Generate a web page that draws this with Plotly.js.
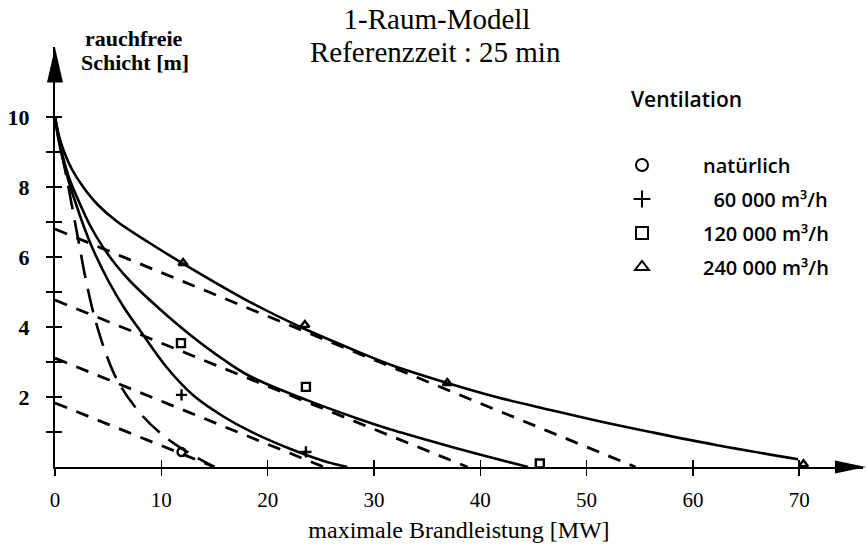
<!DOCTYPE html>
<html><head><meta charset="utf-8">
<script src="https://cdn.plot.ly/plotly-3.0.1.min.js"></script>
<style>html,body{margin:0;padding:0;background:#fff}#chart{width:866px;height:547px}</style>
</head><body><div id="chart"></div>
<script>
// ---- tick labels ----
const xTickVals = [0, 10, 20, 30, 40, 50, 60, 70];
const yTickVals = [1, 2, 3, 4, 5, 6, 7, 8, 9, 10];
const yTickText = ['', '2', '', '4', '', '6', '', '8', '', '10'];

// ---- solid curves (model) ----
const curve240X = [0, 0.3, 0.8, 1.6, 2.65, 4.0, 5.8, 8.9, 12.0, 18.3, 23.3, 27.5, 31.5, 36.9, 41.5, 46.6, 51.3, 56, 62.3, 69.9];
const curve240Y = [10, 9.55, 9.05, 8.5, 8.0, 7.5, 7.02, 6.4, 5.82, 4.72, 3.97, 3.42, 2.93, 2.4, 2.0, 1.63, 1.3, 1.0, 0.62, 0.22];

const curve120X = [0, 0.3, 0.8, 1.4, 2.3, 3.3, 4.5, 5.8, 7.1, 9.9, 12.7, 15.8, 18.3, 23.7, 28.5, 31.5, 34, 37, 40.3, 44.5];
const curve120Y = [10, 9.45, 8.8, 8.2, 7.55, 6.9, 6.29, 5.75, 5.3, 4.5, 3.78, 3.08, 2.6, 1.91, 1.38, 1.08, 0.86, 0.6, 0.33, 0];

const curve60X = [0, 0.3, 0.8, 1.4, 2.1, 2.8, 3.6, 5.05, 6.5, 8.0, 10.5, 13.0, 15.8, 18.3, 22.1, 25.2, 27.5];
const curve60Y = [10, 9.4, 8.7, 8.05, 7.4, 6.8, 6.2, 5.3, 4.55, 3.9, 2.85, 2.05, 1.45, 1.03, 0.52, 0.18, 0];

const curveNatX = [0, 0.4, 0.8, 1.2, 1.6, 2.0, 2.4, 2.8, 3.7, 4.9, 6.0, 8.0, 9.9, 12.1, 15.0];
const curveNatY = [10, 9.35, 8.72, 8.1, 7.45, 6.8, 6.15, 5.5, 4.3, 3.15, 2.4, 1.54, 0.97, 0.49, 0];

// ---- dashed lines ----
const line240X = [0, 54.6];
const line240Y = [6.8, 0];
const line120X = [0, 38.8];
const line120Y = [4.77, 0];
const line60X = [0, 25.3];
const line60Y = [3.11, 0];
const lineNatX = [0, 15.0];
const lineNatY = [1.83, 0];

// ---- measured points ----
const natX = [11.9];
const natY = [0.43];
const v60X = [11.9, 23.6];
const v60Y = [2.06, 0.43];
const v120X = [11.85, 23.6, 45.6];
const v120Y = [3.54, 2.29, 0.1];
const v240X = [12.05, 23.5, 36.9, 70.4];
const v240Y = [5.83, 4.06, 2.4, 0.08];

const seriesNames = ['natürlich', '\u00a0\u00a060 000 m³/h', '120 000 m³/h', '240 000 m³/h'];

const solid = {color: '#000', width: 2.6, shape: 'spline', smoothing: 1};
const shortDash = {color: '#000', width: 2.8, dash: '13px,10px'};
const longDash = {color: '#000', width: 2.6, dash: '24px,11px', shape: 'spline', smoothing: 1};

function curve(x, y, line) {
  return {x: x, y: y, mode: 'lines', line: line, showlegend: false, hoverinfo: 'skip'};
}
function pts(x, y, name, symbol, group) {
  return {x: x, y: y, mode: 'markers', name: name, legendgroup: group,
    marker: {symbol: symbol, size: 8, color: '#000', line: {color: '#000', width: 2.4}}};
}

const traces = [
  curve(curve240X, curve240Y, solid),
  curve(curve120X, curve120Y, solid),
  curve(curve60X, curve60Y, solid),
  curve(curveNatX, curveNatY, longDash),
  curve(line240X, line240Y, shortDash),
  curve(line120X, line120Y, shortDash),
  curve(line60X, line60Y, shortDash),
  curve(lineNatX, lineNatY, shortDash),
  pts(natX, natY, seriesNames[0], 'circle-open', 'g1'),
  pts(v60X, v60Y, seriesNames[1], 'cross-thin-open', 'g2'),
  pts(v120X, v120Y, seriesNames[2], 'square-open', 'g3'),
  pts(v240X, v240Y, seriesNames[3], 'triangle-up-open', 'g4'),
  {x: [], y: [], xaxis: 'x2', yaxis: 'y2', mode: 'markers', showlegend: false, hoverinfo: 'skip'}
];

const serif = 'Liberation Serif, Times New Roman, serif';
const sans = 'Open Sans, Noto Sans, sans-serif';

const layout = {
  width: 866, height: 547,
  margin: {l: 55, r: 3, t: 47, b: 80, pad: 0},
  paper_bgcolor: '#fff', plot_bgcolor: '#fff',
  title: {text: '1-Raum-Modell', x: 437 / 866, xanchor: 'center', y: 1 - 18.5 / 547, yanchor: 'middle',
    font: {family: serif, size: 29, color: '#000'}},
  xaxis: {range: [0, 76], showline: true, linecolor: '#000', linewidth: 2,
    ticks: 'outside', ticklen: 7, tickwidth: 1.5, tickcolor: '#000', tickvals: xTickVals,
    tickfont: {family: serif, size: 21, color: '#000'}, ticklabelstandoff: 6,
    showgrid: false, zeroline: false, fixedrange: true,
    title: {text: 'maximale Brandleistung [MW]', font: {family: serif, size: 24, color: '#000'}, standoff: 10}},
  yaxis: {range: [0, 12], showline: true, linecolor: '#000', linewidth: 2,
    ticks: 'outside', ticklen: 7, tickwidth: 1.5, tickcolor: '#000', tickvals: yTickVals, ticktext: yTickText,
    tickfont: {family: serif, size: 22, color: '#000', weight: 'bold'}, ticklabelstandoff: 12,
    showgrid: false, zeroline: false, fixedrange: true},
  xaxis2: {overlaying: 'x', anchor: 'y', side: 'bottom', range: [0, 76], ticks: 'inside', ticklen: 7, tickwidth: 1.5,
    tickcolor: '#000', tickvals: xTickVals, showticklabels: false, showline: false, showgrid: false, zeroline: false},
  yaxis2: {overlaying: 'y', anchor: 'x', side: 'left', range: [0, 12], ticks: 'inside', ticklen: 7, tickwidth: 1.5,
    tickcolor: '#000', tickvals: yTickVals, showticklabels: false, showline: false, showgrid: false, zeroline: false},
  showlegend: true,
  legend: {x: (581 - 55) / 808, y: (467.5 - 146) / 420, xanchor: 'left', yanchor: 'top',
    font: {family: sans, size: 20, color: '#000', weight: 600}, itemsizing: 'constant', itemwidth: 112,
    tracegroupgap: 5, bgcolor: 'rgba(0,0,0,0)', traceorder: 'grouped'},
  annotations: [
    {text: 'Referenzzeit : 25 min', xref: 'paper', yref: 'paper', x: (435 - 55) / 808, y: (467.5 - 52.5) / 420,
      xanchor: 'center', yanchor: 'middle', showarrow: false, font: {family: serif, size: 29, color: '#000'}},
    {text: 'rauchfreie', xref: 'paper', yref: 'paper', x: (134 - 55) / 808, y: (467.5 - 38.6) / 420,
      xanchor: 'center', yanchor: 'middle', showarrow: false, font: {family: serif, size: 22, color: '#000', weight: 'bold'}},
    {text: 'Schicht [m]', xref: 'paper', yref: 'paper', x: (135 - 55) / 808, y: (467.5 - 62.6) / 420,
      xanchor: 'center', yanchor: 'middle', showarrow: false, font: {family: serif, size: 22, color: '#000', weight: 'bold'}},
    {text: 'Ventilation', xref: 'paper', yref: 'paper', x: (686.5 - 55) / 808, y: (467.5 - 99) / 420,
      xanchor: 'center', yanchor: 'middle', showarrow: false, font: {family: sans, size: 21, color: '#000', weight: 600}}
  ],
  shapes: [
    {type: 'path', xref: 'paper', yref: 'paper', path: 'M 0.9653 0.0155 L 1.0037 0 L 0.9653 -0.0155 Z',
      fillcolor: '#000', line: {width: 0}, layer: 'above'},
    {type: 'path', xref: 'paper', yref: 'paper', path: 'M -0.0099 0.9155 L 0 0.9988 L 0.0099 0.9155 Z',
      fillcolor: '#000', line: {width: 0}, layer: 'above'}
  ]
};

Plotly.newPlot('chart', traces, layout, {displayModeBar: false, staticPlot: true});
</script>
</body></html>
